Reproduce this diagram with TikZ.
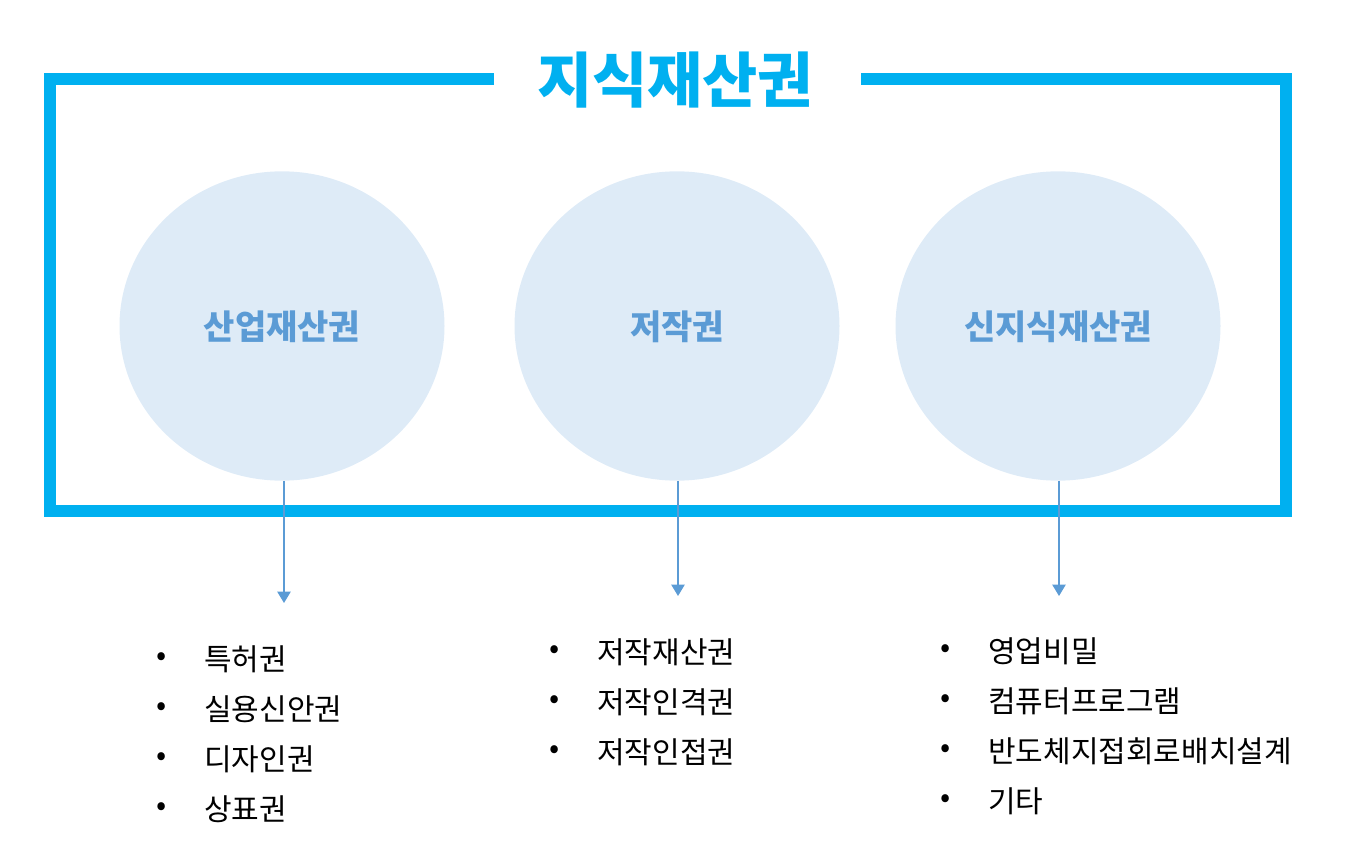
\documentclass[tikz,border=0pt]{standalone}
\usepackage{fontspec}
\setmainfont{Noto Sans CJK KR}
\usetikzlibrary{arrows.meta,shapes.geometric}
\definecolor{framecol}{HTML}{00B0F0}
\definecolor{circfill}{HTML}{DEEBF7}
\definecolor{labcol}{HTML}{5B9BD5}
\tikzset{
  frame/.style={draw=framecol, line width=9pt, line join=miter, line cap=butt},
  circ/.style={ellipse, fill=circfill, minimum width=243.75pt, minimum height=232pt, inner sep=0pt},
  circlabel/.style={text=labcol, font=\fontsize{25.5}{28}\selectfont\bfseries},
  titlelab/.style={text=framecol, font=\fontsize{45}{50}\selectfont\bfseries, inner sep=0pt},
  conn/.style={draw=labcol, line width=0.9pt, -{Triangle[length=8.5pt,width=10pt]}},
  item/.style={anchor=west, inner sep=0pt, font=\fontsize{22.5}{26}\selectfont},
  bul/.style={inner sep=0pt, font=\fontsize{22.5}{26}\selectfont}
}
\begin{document}
\begin{tikzpicture}[x=0.75pt,y=-0.75pt]
\useasboundingbox (0,0) rectangle (1347,866);
\coordinate (g1) at (494,79);
\coordinate (g2) at (861,79);
\draw[frame] (g1) -- (50,79) -- (50,511) -- (1286,511) -- (1286,79) -- (g2);
\node[titlelab] (title) at (675,80) {지식재산권};

\node[circ] (c1) at (282,326) {};
\node[circ] (c2) at (677,326) {};
\node[circ] (c3) at (1058,326) {};
\node[circlabel] (l1) at (282,327) {산업재산권};
\node[circlabel] (l2) at (677,327) {저작권};
\node[circlabel] (l3) at (1058,327) {신지식재산권};

\coordinate (e1) at (284,603);
\coordinate (e2) at (678,596);
\coordinate (e3) at (1059,596);
\draw[conn] (c1.south -| e1) -- (e1);
\draw[conn] (c2.south -| e2) -- (e2);
\draw[conn] (c3.south -| e3) -- (e3);

% left list
\foreach \t [count=\i] in {특허권,실용신안권,디자인권,상표권}{
  \node[bul] (b1\i) at (162,{659+50*(\i-1)}) {•};
  \node[item] (t1\i) at (204,{659+50*(\i-1)}) {\t};
}
% middle list
\foreach \t [count=\i] in {저작재산권,저작인격권,저작인접권}{
  \node[bul] (b2\i) at (555,{652+50*(\i-1)}) {•};
  \node[item] (t2\i) at (597,{652+50*(\i-1)}) {\t};
}
% right list
\foreach \t [count=\i] in {영업비밀,컴퓨터프로그램,반도체지접회로배치설계,기타}{
  \node[bul] (b3\i) at (946,{651+50*(\i-1)}) {•};
  \node[item] (t3\i) at (988,{651+50*(\i-1)}) {\t};
}
\end{tikzpicture}
\end{document}
